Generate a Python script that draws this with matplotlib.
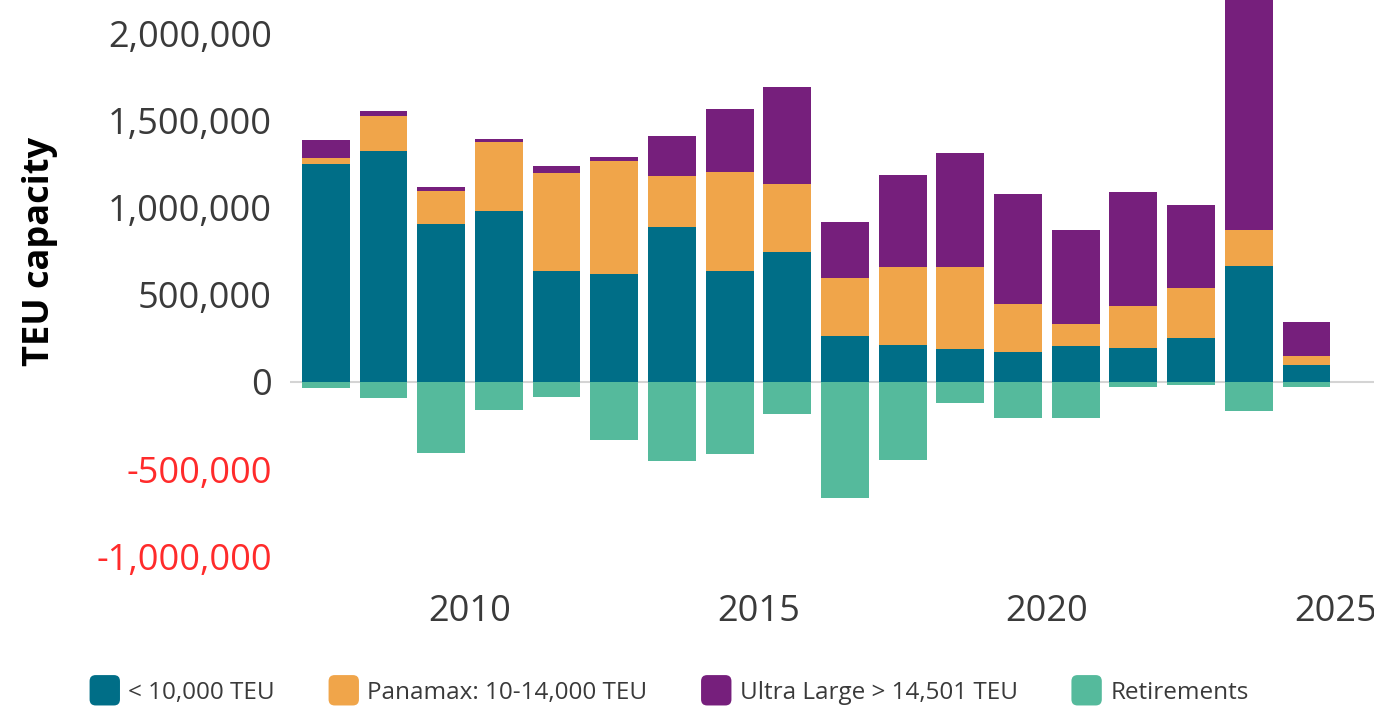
import matplotlib
matplotlib.use("Agg")
import matplotlib.pyplot as plt
from matplotlib.patches import Patch, FancyBboxPatch
from matplotlib.legend_handler import HandlerPatch
from matplotlib.ticker import FuncFormatter
import numpy as np

# deliveries / retirements per year (TEU)
years = list(range(2007, 2025))
small = [1255000, 1326000, 910000, 983000, 638000, 619000, 891000, 636000, 747000,
         264000, 213000, 188000, 174000, 205000, 197000, 255000, 665000, 96000]
panamax = [34500, 201000, 187000, 396000, 563000, 649000, 293000, 571000, 389000,
           335000, 450000, 475000, 272000, 126000, 240000, 287000, 210000, 53000]
ultra = [103000, 29000, 23000, 15500, 40000, 25000, 228000, 359000, 559000,
         322000, 527000, 655000, 632000, 540000, 657000, 474000, 1425000, 197000]
retirements = [-34500, -92000, -406000, -159000, -86000, -335000, -454000, -415000, -184000,
               -667000, -446000, -122000, -205000, -209000, -26000, -15000, -167000, -30500]

series_labels = ['< 10,000 TEU', 'Panamax: 10-14,000 TEU', 'Ultra Large > 14,501 TEU', 'Retirements']
colors = ['#006E87', '#F0A54A', '#761F7C', '#55BA9C']

plt.rcParams['font.family'] = ['Open Sans', 'DejaVu Sans']


class RoundHandler(HandlerPatch):
    def create_artists(self, legend, orig_handle, xdescent, ydescent,
                       width, height, fontsize, trans):
        side = width
        y0 = -ydescent + height / 2 - side / 2
        p = FancyBboxPatch((-xdescent, y0), side, side,
                           boxstyle='round,pad=0,rounding_size=%f' % (side * 0.2),
                           fc=orig_handle.get_facecolor(), ec='none', transform=trans)
        return [p]


fig = plt.figure(figsize=(13.74, 7.07), dpi=100)
ax = fig.add_axes([290 / 1374, (707 - 575) / 707, 1 - 290 / 1374, 575 / 707])

x = np.array(years) + 0.5
w = 0.83
small = np.array(small)
panamax = np.array(panamax)
ultra = np.array(ultra)

ax.axhline(0, color='#d4d4d4', lw=1.5, zorder=0)
ax.bar(x, small, w, color=colors[0], zorder=2)
ax.bar(x, panamax, w, bottom=small, color=colors[1], zorder=2)
ax.bar(x, ultra, w, bottom=small + panamax, color=colors[2], zorder=2)
ax.bar(x, retirements, w, color=colors[3], zorder=2)

ax.set_xlim(2006.88, 2025.67)
ax.set_ylim(-1109000, 2195000)
ax.set_xticks([2010, 2015, 2020, 2025])
ax.set_yticks([-1000000, -500000, 0, 500000, 1000000, 1500000, 2000000])
ax.yaxis.set_major_formatter(FuncFormatter(lambda v, p: f'{int(v):,}'))

ax.tick_params(axis='both', length=0, labelsize=26, colors='#3a3a3a')
ax.tick_params(axis='y', pad=13)
ax.tick_params(axis='x', pad=14)
for lbl, val in zip(ax.get_yticklabels(), ax.get_yticks()):
    if val < 0:
        lbl.set_color('#FF2B2B')

for s in ax.spines.values():
    s.set_visible(False)

fig.text(40 / 1374, 0.6436, 'TEU capacity', rotation=90, ha='center', va='center',
         fontsize=26, fontweight='bold', color='black')

handles = [Patch(facecolor=c) for c in colors]
fig.legend(handles, series_labels, loc='center', bbox_to_anchor=(0.487, 1 - 692 / 707),
           ncol=4, frameon=False, fontsize=17.5, handlelength=1.25, handleheight=1.0,
           handletextpad=0.35, columnspacing=2.2, labelcolor='#3a3a3a',
           handler_map={Patch: RoundHandler()})

fig.savefig('out.png', dpi=100)
